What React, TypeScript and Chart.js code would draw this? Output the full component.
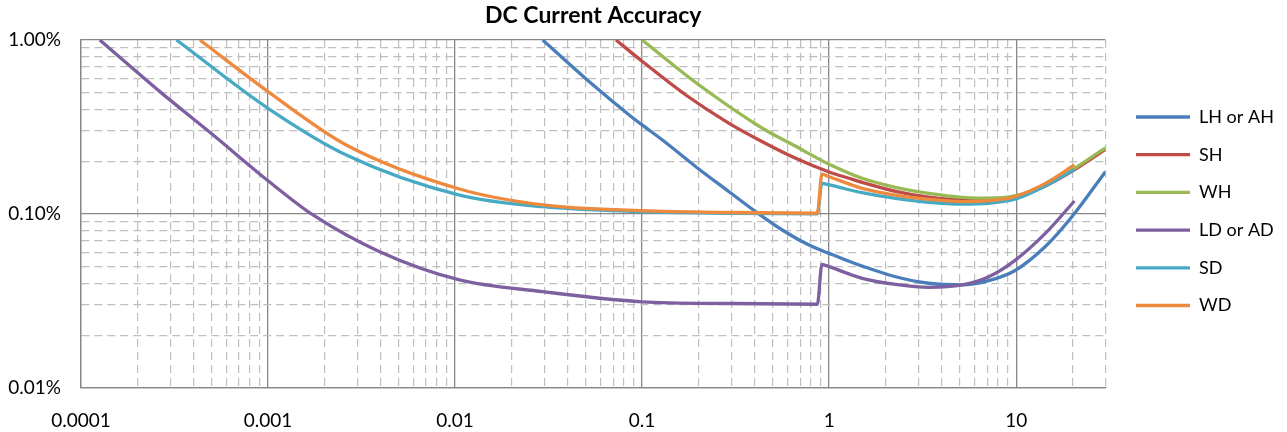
import React, { useEffect, useRef } from 'react';
import { Chart, registerables } from 'chart.js';

Chart.register(...registerables);

const TITLE = 'DC Current Accuracy';
const seriesNames = ['LH or AH', 'SH', 'WH', 'LD or AD', 'SD', 'WD'];
const seriesColors = ['#4A7EBB', '#BE4B48', '#98B954', '#7D60A0', '#46AAC5', '#EE8A3E'];

// x = current (A), y = accuracy (%)
const lhX = [0.0294, 0.0522, 0.0853, 0.1, 0.1285, 0.1937, 0.2917, 0.4052, 0.5619, 0.7803, 1, 1.276, 1.502, 2.265, 3.411, 5.136, 7.134, 9.82, 14.32, 19.86, 30];
const lhY = [1.0, 0.576, 0.371, 0.325, 0.2662, 0.187, 0.1343, 0.1031, 0.0809, 0.0663, 0.0594, 0.0535, 0.0502, 0.0436, 0.04, 0.0391, 0.0414, 0.0472, 0.065, 0.0965, 0.175];

const shX = [0.0725, 0.1, 0.1713, 0.2917, 0.4395, 0.6625, 1, 1.276, 1.502, 2.265, 3.411, 5.136, 7.134, 9.82, 14.32, 19.86, 30];
const shY = [1.0, 0.755, 0.483, 0.332, 0.2603, 0.209, 0.1743, 0.1604, 0.152, 0.135, 0.125, 0.1205, 0.1205, 0.1245, 0.145, 0.176, 0.235];

const whX = [0.1, 0.2017, 0.4395, 0.6625, 1, 1.502, 2.265, 3.411, 5.136, 7.134, 9.82, 14.32, 19.86, 30];
const whY = [1.0, 0.551, 0.311, 0.245, 0.193, 0.1604, 0.1423, 0.1315, 0.1247, 0.1232, 0.127, 0.1468, 0.179, 0.24];

const ldX = [0.000126, 0.000264, 0.000509, 0.001, 0.00174, 0.00395, 0.01056, 0.0294, 0.1, 0.3, 0.865, 0.915, 1, 1.502, 2.265, 3.411, 5.136, 7.134, 9.82, 14.32, 20.5];
const ldY = [1.0, 0.505, 0.2844, 0.1553, 0.0987, 0.0607, 0.0418, 0.0358, 0.0313, 0.0306, 0.0303, 0.0514, 0.0498, 0.0427, 0.0394, 0.0379, 0.0391, 0.0436, 0.054, 0.0774, 0.1188];

const sdX = [0.000324, 0.001, 0.00262, 0.01056, 0.0294, 0.1, 0.3, 0.865, 0.915, 1, 1.502, 2.265, 3.411, 5.136, 7.134, 9.82, 14.32, 20.5];
const sdY = [1.0, 0.405, 0.2183, 0.1285, 0.1101, 0.1031, 0.1008, 0.1002, 0.15, 0.147, 0.1326, 0.123, 0.1168, 0.1141, 0.1152, 0.1215, 0.145, 0.18];

const wdX = [0.000432, 0.001, 0.00262, 0.01056, 0.0294, 0.1, 0.3, 0.865, 0.915, 1, 1.502, 2.265, 3.411, 5.136, 7.134, 9.82, 14.32, 20.5];
const wdY = [1.0, 0.505, 0.2492, 0.1392, 0.1127, 0.1045, 0.102, 0.101, 0.1693, 0.1638, 0.1405, 0.1285, 0.1215, 0.1177, 0.1192, 0.1257, 0.15, 0.1914];

const seriesX = [lhX, shX, whX, ldX, sdX, wdX];
const seriesY = [lhY, shY, whY, ldY, sdY, wdY];

const xTickLabels = ['0.0001', '0.001', '0.01', '0.1', '1', '10'];
const yTickLabels = ['0.01%', '0.10%', '1.00%'];
const X_MIN = 0.0001;
const X_MAX = 30;
const Y_MIN = 0.01;
const Y_MAX = 1;

const MAJOR_GRID = '#878787';
const MINOR_GRID = '#BFBFBF';
const FONT = 'Lato';

function logTicks(min: number, max: number) {
  const out: { value: number }[] = [];
  const e0 = Math.floor(Math.log10(min) + 1e-9);
  const e1 = Math.ceil(Math.log10(max) - 1e-9);
  for (let e = e0; e <= e1; e++) {
    for (let k = 1; k <= 9; k++) {
      const v = Number((k * Math.pow(10, e)).toPrecision(6));
      if (v >= min * 0.999999 && v <= max * 1.000001) out.push({ value: v });
    }
  }
  return out;
}

function isDecade(v: number | undefined) {
  if (v === undefined || v === null) return false;
  const l = Math.log10(v);
  return Math.abs(l - Math.round(l)) < 1e-6;
}

const LEGEND_LINE_LEFT = 1136;
const LEGEND_FIRST_CENTER = 117;
const LEGEND_FONT = 18;

const legendPlacer = {
  id: 'legendPlacer',
  afterLayout(chart: any) {
    const lg = chart.legend;
    if (!lg) return;
    const pad = lg.options.labels.padding;
    const dx = LEGEND_LINE_LEFT - (lg.left + pad);
    lg.left += dx;
    lg.right += dx;
    const colH = lg.columnSizes && lg.columnSizes[0] ? lg.columnSizes[0].height : 0;
    const yStart = (lg.top + pad + (lg.bottom - colH)) / 2;
    const dy = LEGEND_FIRST_CENTER - LEGEND_FONT / 2 - yStart;
    lg.top += dy;
    lg.bottom += dy;
  },
};

export default function App() {
  const ref = useRef<HTMLCanvasElement>(null);
  useEffect(() => {
    if (!ref.current) return;
    const datasets = seriesNames.map((name, i) => ({
      label: name,
      data: seriesX[i].map((x, j) => ({ x, y: seriesY[i][j] })),
      borderColor: seriesColors[i],
      backgroundColor: seriesColors[i],
      borderWidth: 3.3,
      pointRadius: 0,
      pointHoverRadius: 0,
      pointStyle: 'line',
      fill: false,
      cubicInterpolationMode: 'monotone' as const,
      order: seriesNames.length - i,
    }));
    const chart = new Chart(ref.current, {
      type: 'line',
      data: { datasets },
      plugins: [legendPlacer],
      options: {
        animation: false,
        responsive: true,
        maintainAspectRatio: false,
        layout: { padding: { left: 0, right: 14, top: 0, bottom: 0 } },
        font: { family: FONT },
        plugins: {
          title: {
            display: true,
            text: TITLE,
            fullSize: false,
            color: '#000',
            font: { family: FONT, size: 23, weight: 'bold', lineHeight: 1.2 },
            padding: { top: 2, bottom: 10.4 },
          },
          legend: {
            position: 'right',
            labels: {
              usePointStyle: true,
              pointStyle: 'line',
              pointStyleWidth: 54,
              padding: 19.7,
              color: '#000',
              font: { family: FONT, size: LEGEND_FONT },
              sort: (a: any, b: any) => a.datasetIndex - b.datasetIndex,
            },
          },
          tooltip: { enabled: false },
        },
        scales: {
          x: {
            type: 'logarithmic',
            min: X_MIN,
            max: X_MAX,
            afterBuildTicks: (axis: any) => { axis.ticks = logTicks(X_MIN, X_MAX); },
            afterFit: (axis: any) => { axis.height = 44; },
            ticks: {
              autoSkip: false,
              maxRotation: 0,
              padding: 21,
              color: '#000',
              font: { family: FONT, size: 19 },
              callback: (v: any) => {
                const val = Number(v);
                if (!isDecade(val)) return '';
                const idx = Math.round(Math.log10(val)) + 4;
                return xTickLabels[idx] ?? '';
              },
            },
            grid: {
              drawTicks: false,
              color: (ctx: any) => (isDecade(ctx.tick?.value) ? MAJOR_GRID : MINOR_GRID),
              lineWidth: (ctx: any) => (isDecade(ctx.tick?.value) ? 1.3 : 1.2),
            },
            border: {
              display: true,
              color: MAJOR_GRID,
              width: 1.3,
              dash: (ctx: any) => (ctx.tick && !isDecade(ctx.tick.value) ? [8, 5] : []),
            },
          },
          y: {
            type: 'logarithmic',
            min: Y_MIN,
            max: Y_MAX,
            afterBuildTicks: (axis: any) => { axis.ticks = logTicks(Y_MIN, Y_MAX); },
            afterFit: (axis: any) => { axis.width = 81; },
            ticks: {
              autoSkip: false,
              padding: 20,
              color: '#000',
              font: { family: FONT, size: 19 },
              callback: (v: any) => {
                const val = Number(v);
                if (!isDecade(val)) return '';
                const idx = Math.round(Math.log10(val)) + 2;
                return yTickLabels[idx] ?? '';
              },
            },
            grid: {
              drawTicks: false,
              color: (ctx: any) => (isDecade(ctx.tick?.value) ? MAJOR_GRID : MINOR_GRID),
              lineWidth: (ctx: any) => (isDecade(ctx.tick?.value) ? 1.3 : 1.2),
            },
            border: {
              display: true,
              color: MAJOR_GRID,
              width: 1.3,
              dash: (ctx: any) => (ctx.tick && !isDecade(ctx.tick.value) ? [8, 5] : []),
            },
          },
        },
      } as any,
    });
    return () => chart.destroy();
  }, []);
  return (
    <div style={{ position: 'absolute', left: 0, top: 0, width: 1287, height: 432, background: '#fff' }}>
      <canvas ref={ref} />
    </div>
  );
}
